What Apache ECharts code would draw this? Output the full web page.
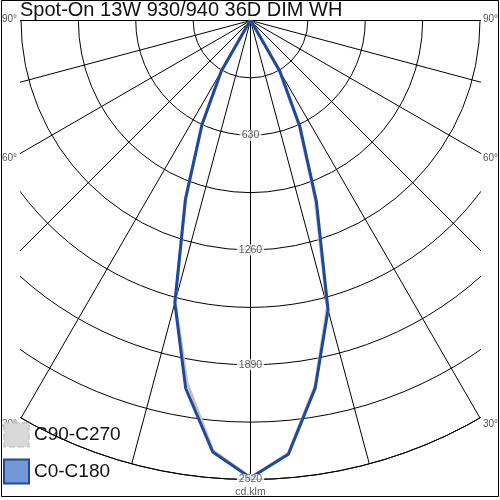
<!DOCTYPE html>
<html><head><meta charset="utf-8">
<script src="https://cdn.jsdelivr.net/npm/echarts/dist/echarts.min.js"></script>
<style>html,body{margin:0;padding:0;background:#fff}#c{width:500px;height:500px}</style>
</head><body><div id="c"></div>
<script>
// ---- data ----
const chartTitle = 'Spot-On 13W 930/940 36D DIM WH';
const seriesNames = ['C90-C270', 'C0-C180'];
// gamma angles (deg), negative = left half, positive = right half
const gammaAngles = [-90,-85,-80,-75,-70,-65,-60,-55,-50,-45,-40,-35,-30,-25,-20,-15,-10,-5,0,5,10,15,20,25,30,35,40,45,50,55,60,65,70,75,80,85,90];
// intensities in cd/klm
const c0c180 = [0,0,0,0,0,0,1,1,2,2,4,14,320,630,1045,1605,2050,2378,2510,2390,2048,1645,1058,640,322,14,4,2,2,1,1,0,0,0,0,0,0];
const c90c270 = [0,0,0,0,0,0,1,1,2,2,4,14,318,626,1040,1598,2015,2370,2510,2385,2040,1630,1035,628,318,14,4,2,2,1,1,0,0,0,0,0,0];
const radiusTickLabels = [630, 1260, 1890, 2520];
const radiusMax = 2520;
const radiusStep = 315;
const angleStep = 15;
const unitLabel = 'cd.klm';
const angleTickLabels = ['90°', '60°', '30°'];

const FONT = '"Liberation Sans", Arial, sans-serif';
const chart = echarts.init(document.getElementById('c'), null, {renderer: 'canvas'});

function pairs(vals) { return vals.map((v, i) => [v, gammaAngles[i]]); }

const angleLabelY = [19, 158, 424];
const graphics = [
  // clip region outside the plot rectangle
  {type: 'rect', shape: {x: 0, y: 0, width: 500, height: 20}, style: {fill: '#fff'}, z: 1, silent: true},
  {type: 'rect', shape: {x: 0, y: 0, width: 20, height: 500}, style: {fill: '#fff'}, z: 1, silent: true},
  {type: 'rect', shape: {x: 481, y: 0, width: 19, height: 500}, style: {fill: '#fff'}, z: 1, silent: true},
  {type: 'rect', shape: {x: 0, y: 497, width: 500, height: 3}, style: {fill: '#fff'}, z: 1, silent: true},
  // frame
  {type: 'rect', shape: {x: 1.5, y: 0.5, width: 497, height: 496}, style: {fill: null, stroke: '#000', lineWidth: 1}, z: 30, silent: true},
  // title
  {type: 'text', x: 20, y: 10, z: 30, silent: true,
   style: {text: chartTitle, fill: '#111', font: '20px ' + FONT, align: 'left', verticalAlign: 'middle'}}
];
angleTickLabels.forEach((t, i) => {
  graphics.push({type: 'text', x: 2, y: angleLabelY[i], z: 5, silent: true,
    style: {text: t, fill: '#555', font: '10px ' + FONT, align: 'left', verticalAlign: 'middle'}});
  graphics.push({type: 'text', x: 483, y: angleLabelY[i], z: 5, silent: true,
    style: {text: t, fill: '#555', font: '10px ' + FONT, align: 'left', verticalAlign: 'middle'}});
});

chart.setOption({
  animation: false,
  backgroundColor: '#fff',
  polar: {center: [250.5, 20.5], radius: 459},
  angleAxis: {
    type: 'value', min: -180, max: 180, interval: angleStep, startAngle: 90, clockwise: false,
    axisLine: {show: true, lineStyle: {color: '#000', width: 1}},
    axisTick: {show: false}, axisLabel: {show: false},
    splitLine: {show: true, lineStyle: {color: '#000', width: 1}}
  },
  radiusAxis: {
    type: 'value', min: 0, max: radiusMax, interval: radiusStep,
    axisLine: {show: false}, axisTick: {show: false}, axisLabel: {show: false},
    splitLine: {show: true, lineStyle: {color: '#000', width: 1}}
  },
  legend: {
    orient: 'vertical', left: 3, top: 422, padding: 0, itemWidth: 25, itemHeight: 24, itemGap: 11,
    z: 10, selectedMode: false,
    textStyle: {fontSize: 19, color: '#111', fontFamily: FONT},
    data: [
      {name: seriesNames[0], icon: 'rect', itemStyle: {color: '#d9d9d9', borderColor: '#c4c4c4', borderWidth: 1.5, borderType: 'dashed'}},
      {name: seriesNames[1], icon: 'rect', itemStyle: {color: '#7396d6', borderColor: '#1f4a9b', borderWidth: 2}}
    ]
  },
  graphic: {elements: graphics},
  series: [
    {name: seriesNames[0], type: 'line', coordinateSystem: 'polar', data: pairs(c90c270),
     symbol: 'none', z: 3, silent: true, lineStyle: {color: '#c3c3c3', width: 3}, itemStyle: {color: '#c3c3c3'}},
    {name: seriesNames[1], type: 'line', coordinateSystem: 'polar', data: pairs(c0c180),
     symbol: 'none', z: 4, silent: true, lineStyle: {color: '#1f4a9b', width: 3}, itemStyle: {color: '#1f4a9b'}},
    {type: 'scatter', coordinateSystem: 'polar', data: radiusTickLabels.map(v => [v, 0]), symbolSize: 0, z: 6, silent: true,
     label: {show: true, position: 'inside', formatter: p => String(p.value[0]), fontSize: 10.5, color: '#333',
             fontFamily: FONT, backgroundColor: '#fff', padding: [0, 2]}},
    {type: 'scatter', coordinateSystem: 'polar', data: [[radiusMax, 0]], symbolSize: 0, z: 6, silent: true,
     label: {show: true, position: 'inside', offset: [0, 13], formatter: unitLabel, fontSize: 10.5, color: '#333', fontFamily: FONT}}
  ]
});
</script></body></html>
